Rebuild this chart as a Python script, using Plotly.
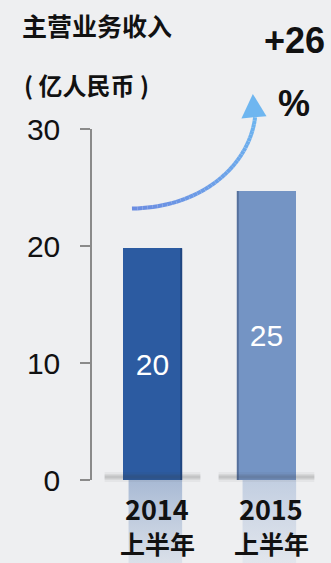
import numpy as np
import plotly.graph_objects as go

# ---- data ----
categories = ["2014", "2015"]
category_sub = ["上半年", "上半年"]
revenue = [19.8, 24.7]          # 主营业务收入 (亿人民币)
value_labels = ["20", "25"]
growth_text = ["+26", "%"]
y_ticks = [0, 10, 20, 30]

title_line1 = "主营业务收入"
title_line2 = "( 亿人民币 )"

bar_colors = ["#2c5ba1", "#7494c4"]
edge_colors = ["#1f4580", "#55709c"]
edge_side = [1, -1]              # right edge dark for first bar, left edge for second
refl_colors = [(44, 91, 161), (116, 148, 196)]

W, H = 331, 563
# pixel layout
px_zero, px_top = 480, 129          # y pixel of 0 and 30
px_cat0, px_step = 152.5, 114       # x pixel of category 0, step per category
px_axis = 92
u_per_px = 30 / (px_zero - px_top)

x_positions = list(range(len(categories)))

# ranges so that both subplots share the same mapping
x2_range = [(0 - px_cat0) / px_step, (W - px_cat0) / px_step]
y2_range = [-(H - px_zero) * u_per_px, 30 + px_top * u_per_px]
x1_range = [(px_axis - px_cat0) / px_step, x2_range[1]]

fig = go.Figure()

# reflections below the bars (on full-figure overlay axis)
bar_w = 0.52
for i, xp in enumerate(x_positions):
    r, g, b = refl_colors[i]
    x0, x1 = xp - bar_w / 2 + 0.05, xp + bar_w / 2 + 0.0
    fig.add_trace(go.Scatter(
        x=[x0, x1, x1, x0, x0], y=[0, 0, y2_range[0], y2_range[0], 0],
        xaxis="x2", yaxis="y2", mode="lines", line=dict(width=0),
        fill="toself",
        fillgradient=dict(type="vertical", colorscale=[
            [0, f"rgba({r},{g},{b},0.10)"], [1, f"rgba({r},{g},{b},0.36)"]]),
        hoverinfo="skip", showlegend=False))
    # soft shadow at the base
    for wdt, op in [(10, 0.05), (6, 0.08), (3, 0.12)]:
        fig.add_trace(go.Scatter(
            x=[xp - 0.42, xp + 0.42], y=[0.25, 0.25], xaxis="x2", yaxis="y2",
            mode="lines", line=dict(color=f"rgba(60,60,60,{op})", width=wdt),
            hoverinfo="skip", showlegend=False))

# bars
fig.add_trace(go.Bar(
    x=x_positions, y=revenue, width=bar_w,
    marker=dict(color=bar_colors, line=dict(width=0)),
    text=value_labels, textposition="inside", insidetextanchor="middle",
    textfont=dict(color="white", size=30, family="Liberation Sans, Arial"),
    showlegend=False, hoverinfo="skip", xaxis="x", yaxis="y"))

# thin darker side edges of the bars
for xp, v, col, side in zip(x_positions, revenue, edge_colors, edge_side):
    ex = xp + side * (bar_w / 2 - 0.008)
    fig.add_trace(go.Scatter(
        x=[ex, ex], y=[0, v], xaxis="x", yaxis="y", mode="lines",
        line=dict(color=col, width=2), hoverinfo="skip", showlegend=False))

# growth arrow (cubic bezier, gradient by segments)
P = np.array([[-0.18, 23.2], [0.45, 23.3], [0.85, 27.0], [0.90, 31.0]])
t = np.linspace(0, 1, 41)
curve = ((1 - t)[:, None] ** 3 * P[0] + 3 * ((1 - t) ** 2 * t)[:, None] * P[1]
         + 3 * ((1 - t) * t ** 2)[:, None] * P[2] + (t ** 3)[:, None] * P[3])
c0 = np.array([107, 141, 226])
c1 = np.array([110, 182, 240])
for k in range(len(t) - 1):
    c = (c0 + (c1 - c0) * t[k]).astype(int)
    fig.add_trace(go.Scatter(
        x=curve[k:k + 2, 0], y=curve[k:k + 2, 1], xaxis="x2", yaxis="y2",
        mode="lines", line=dict(color=f"rgb({c[0]},{c[1]},{c[2]})", width=4),
        hoverinfo="skip", showlegend=False))
fig.add_trace(go.Scatter(
    x=[0.78, 1.0, 0.88, 0.78], y=[30.9, 31.1, 33.0, 30.9], xaxis="x2", yaxis="y2",
    mode="lines", line=dict(width=0), fill="toself", fillcolor="rgb(110,182,240)",
    hoverinfo="skip", showlegend=False))

annotations = []
for xp, yr, sub in zip(x_positions, categories, category_sub):
    annotations.append(dict(x=xp + 0.04, xref="x", y=(H - 508) / H, yref="paper",
                            text=f"<b>{yr}</b>", showarrow=False,
                            font=dict(size=27, color="#111", family="Noto Sans CJK SC"),
                            xanchor="center", yanchor="middle"))
    annotations.append(dict(x=xp + 0.04, xref="x", y=0, yref="paper",
                            text=f"<b>{sub}</b>", showarrow=False,
                            font=dict(size=25, color="#111", family="Noto Sans CJK SC"),
                            xanchor="center", yanchor="bottom"))
annotations.append(dict(x=20 / W, xref="paper", y=(H - 25) / H, yref="paper",
                        text=f"<b>{title_line1}</b>", showarrow=False, xanchor="left",
                        yanchor="middle",
                        font=dict(size=25, color="#111", family="Noto Sans CJK SC")))
annotations.append(dict(x=22 / W, xref="paper", y=(H - 84) / H, yref="paper",
                        text=f"<b>{title_line2}</b>", showarrow=False, xanchor="left",
                        yanchor="middle",
                        font=dict(size=24, color="#111", family="Noto Sans CJK SC")))
for txt, ypx in zip(growth_text, [40, 103]):
    annotations.append(dict(x=294 / W, xref="paper", y=(H - ypx) / H, yref="paper",
                            text=f"<b>{txt}</b>", showarrow=False, xanchor="center",
                            yanchor="middle",
                            font=dict(size=36, color="#111", family="Liberation Sans, Arial")))

fig.update_layout(
    width=W, height=H, margin=dict(l=0, r=0, t=0, b=0, pad=0, autoexpand=False),
    paper_bgcolor="#eeeff1", plot_bgcolor="rgba(0,0,0,0)",
    showlegend=False, bargap=0,
    xaxis=dict(domain=[px_axis / W, 1], range=x1_range, showgrid=False, zeroline=False,
               showline=False, showticklabels=False, ticks="", fixedrange=True,
               automargin=False),
    yaxis=dict(domain=[(H - px_zero) / H, (H - px_top) / H], range=[0, 30],
               tickvals=y_ticks, showgrid=False, zeroline=False,
               showline=True, linecolor="#8a8a8a", linewidth=1.5,
               ticks="outside", ticklen=10, tickcolor="#8a8a8a", tickwidth=1.5,
               ticklabelstandoff=14, automargin=False,
               tickfont=dict(size=30, color="#111", family="Liberation Sans, Arial"),
               fixedrange=True),
    xaxis2=dict(domain=[0, 1], range=x2_range, visible=False, anchor="y2",
                fixedrange=True, automargin=False),
    yaxis2=dict(domain=[0, 1], range=y2_range, visible=False, anchor="x2",
                fixedrange=True, automargin=False),
    annotations=annotations,
)

fig.write_html("out.html")
